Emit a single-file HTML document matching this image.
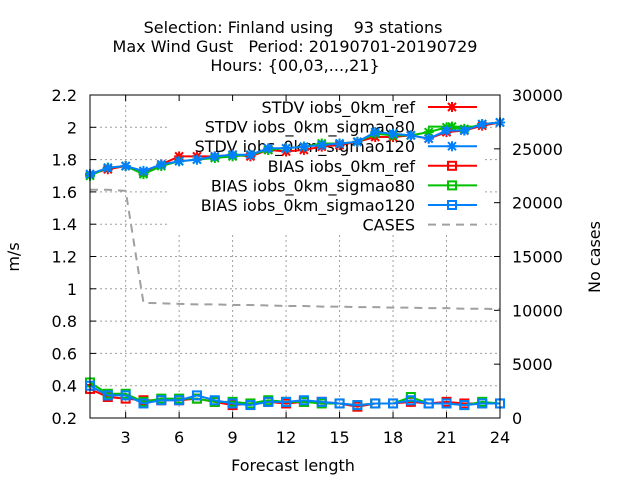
<!DOCTYPE html>
<html><head><meta charset="utf-8"><style>
body{margin:0;background:#fff;}
svg text{font-family:"DejaVu Sans","Liberation Sans",sans-serif;font-size:16px;fill:#000;white-space:pre;}
</style></head><body>
<svg id="c" width="640" height="480"></svg>
<script>
const hours=[1,2,3,4,5,6,7,8,9,10,11,12,13,14,15,16,17,18,19,20,21,22,23,24];
const stdvRef=[1.71,1.74,1.76,1.72,1.77,1.82,1.82,1.82,1.83,1.82,1.86,1.85,1.86,1.88,1.89,1.91,1.94,1.94,1.95,1.93,1.97,1.98,2.01,2.03];
const stdvS80=[1.70,1.75,1.76,1.71,1.76,1.79,1.80,1.81,1.82,1.83,1.86,1.87,1.88,1.90,1.90,1.91,1.96,1.95,1.95,1.97,2.00,1.99,2.02,2.03];
const stdvS120=[1.71,1.75,1.76,1.73,1.77,1.79,1.80,1.82,1.83,1.83,1.87,1.87,1.88,1.89,1.90,1.91,1.97,1.96,1.95,1.93,1.98,1.98,2.02,2.03];
const biasRef=[0.38,0.33,0.32,0.31,0.31,0.31,0.32,0.30,0.28,0.29,0.30,0.29,0.30,0.30,0.29,0.27,0.29,0.29,0.30,0.29,0.30,0.29,0.29,0.29];
const biasS80=[0.42,0.35,0.35,0.30,0.32,0.32,0.32,0.30,0.30,0.29,0.31,0.30,0.30,0.29,0.29,0.28,0.29,0.29,0.33,0.29,0.29,0.28,0.30,0.29];
const biasS120=[0.40,0.34,0.34,0.29,0.31,0.31,0.34,0.31,0.29,0.28,0.30,0.30,0.31,0.30,0.29,0.28,0.29,0.29,0.31,0.29,0.29,0.28,0.29,0.29];
const cases=[21200,21200,21100,10700,10650,10600,10550,10550,10500,10500,10450,10400,10400,10350,10350,10300,10300,10250,10250,10200,10200,10150,10150,10100];
const xTicks=[3,6,9,12,15,18,21,24];
const yTicks=[0.2,0.4,0.6,0.8,1,1.2,1.4,1.6,1.8,2,2.2];
const y2Ticks=[0,5000,10000,15000,20000,25000,30000];
const L=90,R=500,T=95,B=418;
const X=v=>L+(v-1)/23*(R-L);
const Y=v=>B-(v-0.2)/2*(B-T);
const Y2=v=>B-v/30000*(B-T);
const svg=document.getElementById('c');const NS='http://www.w3.org/2000/svg';
function el(t,a,p){const e=document.createElementNS(NS,t);for(const k in a)e.setAttribute(k,a[k]);(p||svg).appendChild(e);return e;}
function tx(x,y,s,anc,name,extra){const e=el('text',Object.assign({x:x,y:y,'text-anchor':anc},extra||{}));e.textContent=s;

return e;}
// titles
tx(293,33,'Selection: Finland using    93 stations','middle','title-line1');
tx(295,52,'Max Wind Gust   Period: 20190701-20190729','middle','title-line2');
tx(295,71,'Hours: {00,03,...,21}','middle','title-line3');
// grid
const grid=el('g',{stroke:'#a0a0a0','stroke-width':1,'stroke-dasharray':'2,3'});


xTicks.slice(0,-1).forEach(v=>el('line',{x1:X(v),x2:X(v),y1:T,y2:B},grid));
yTicks.slice(1,-1).forEach(v=>el('line',{x1:L,x2:R,y1:Y(v),y2:Y(v)},grid));
const lbg=el('rect',{x:167,y:96,width:318,height:136,fill:'#fff'});


// ticks & labels
const ax=el('g',{stroke:'#000','stroke-width':1});


xTicks.forEach(v=>{el('line',{x1:X(v),x2:X(v),y1:B,y2:B-6},ax);el('line',{x1:X(v),x2:X(v),y1:T,y2:T+6},ax);tx(X(v),443,String(v),'middle','x-tick-label');});
yTicks.forEach(v=>{el('line',{x1:L,x2:L+6,y1:Y(v),y2:Y(v)},ax);tx(77,Y(v)+6,String(v),'end','y-tick-label');});
y2Ticks.forEach(v=>{el('line',{x1:R,x2:R-6,y1:Y2(v),y2:Y2(v)},ax);tx(512,Y2(v)+6,String(v),'start','y2-tick-label');});
tx(293,471,'Forecast length','middle','x-axis-title');
tx(19,257,'m/s','middle','y-axis-title',{transform:'rotate(-90 19 257)'});
tx(600,257,'No cases','middle','y2-axis-title',{transform:'rotate(-90 600 257)'});
function star(g,x,y,c){el('path',{d:`M${x-4},${y-4}L${x+4},${y+4}M${x-4},${y+4}L${x+4},${y-4}M${x-5},${y}L${x+5},${y}M${x},${y-5}L${x},${y+5}`,stroke:c,'stroke-width':2},g);}
function sq(g,x,y,c){el('rect',{x:x-4,y:y-4,width:8,height:8,fill:'none',stroke:c,'stroke-width':2},g);}
function series(vals,c,mk,name,yf){const g=el('g',{});
el('polyline',{points:vals.map((v,i)=>X(hours[i])+','+yf(v)).join(' '),fill:'none',stroke:c,'stroke-width':2},g);
if(mk)vals.forEach((v,i)=>mk(g,X(hours[i]),yf(v),c));}
// legend
const lg=el('g',{});
const items=[['STDV iobs_0km_ref','#ff0000',star],['STDV iobs_0km_sigmao80','#00c000',star],['STDV iobs_0km_sigmao120','#0080ff',star],['BIAS iobs_0km_ref','#ff0000',sq],['BIAS iobs_0km_sigmao80','#00c000',sq],['BIAS iobs_0km_sigmao120','#0080ff',sq],['CASES','#a0a0a0',null]];
items.forEach((it,i)=>{const y=107+i*19.6;
tx(415,y+6,it[0],'end','legend-label');
const l=el('line',{x1:428,x2:477,y1:y,y2:y,stroke:it[1],'stroke-width':2},lg);
if(!it[2])l.setAttribute('stroke-dasharray','8,6');else it[2](lg,452,y,it[1]);});
series(cases,'#a0a0a0',null,'cases-line',Y2);svg.lastChild.firstChild.setAttribute('stroke-dasharray','8,6');
series(biasRef,'#ff0000',sq,'bias-ref-line',Y);
series(biasS80,'#00c000',sq,'bias-sigmao80-line',Y);
series(biasS120,'#0080ff',sq,'bias-sigmao120-line',Y);
series(stdvRef,'#ff0000',star,'stdv-ref-line',Y);
series(stdvS80,'#00c000',star,'stdv-sigmao80-line',Y);
series(stdvS120,'#0080ff',star,'stdv-sigmao120-line',Y);
el('rect',{x:L,y:T,width:R-L,height:B-T,fill:'none',stroke:'#000','stroke-width':1});
</script>
</body></html>
